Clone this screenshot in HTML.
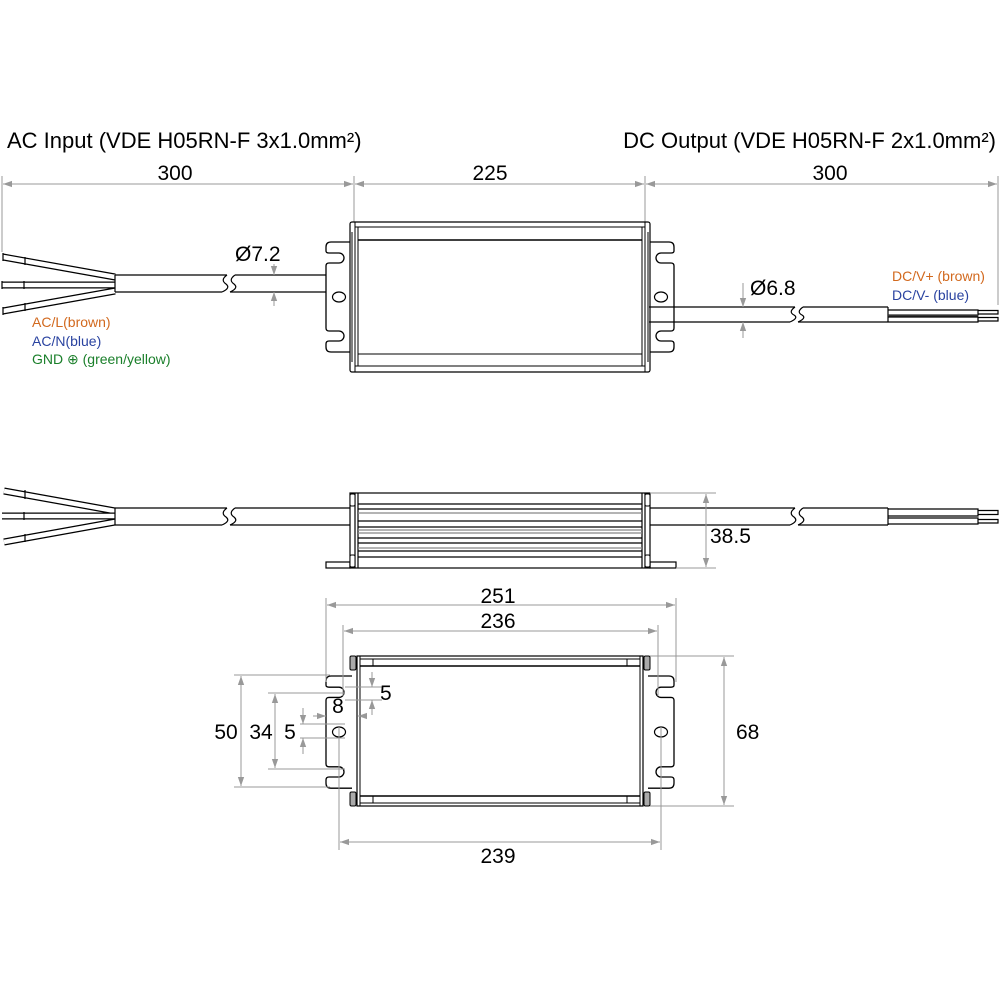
<!DOCTYPE html>
<html><head><meta charset="utf-8"><style>
html,body{margin:0;padding:0;background:#fff;}
svg{display:block;font-family:"Liberation Sans",Arial,sans-serif;}
</style></head><body>
<svg width="1000" height="1000" viewBox="0 0 1000 1000" xmlns="http://www.w3.org/2000/svg">
<defs>
<marker id="ar" viewBox="0 0 10 10" refX="10" refY="5" markerWidth="9" markerHeight="9" orient="auto-start-reverse" markerUnits="userSpaceOnUse"><path d="M0,1.5 L10,5 L0,8.5 Z" fill="#999"/></marker>
<path id="fl" d="M26,0 H5 Q0,0 0,5 V9 Q0,11 3,11 H13 A5,5 0 0 1 13,21 H3 Q0,21 0,24 V86 Q0,89 3,89 H13 A5,5 0 0 1 13,99 H3 Q0,99 0,102 V105 Q0,110 5,110 H26" fill="#fff" stroke="#000" stroke-width="1.3"/>
</defs>
<rect width="1000" height="1000" fill="#fff"/>

<!-- header -->
<text x="7" y="148" font-size="22">AC Input (VDE H05RN-F 3x1.0mm²)</text>
<text x="996" y="148" font-size="22" text-anchor="end">DC Output (VDE H05RN-F 2x1.0mm²)</text>
<g stroke="#999" stroke-width="1" fill="none">
<line x1="2" y1="176" x2="2" y2="252"/>
<line x1="354" y1="176" x2="354" y2="222"/>
<line x1="645" y1="176" x2="645" y2="222"/>
<line x1="998" y1="176" x2="998" y2="305"/>
<line x1="3" y1="184" x2="353" y2="184" marker-start="url(#ar)" marker-end="url(#ar)"/>
<line x1="355" y1="184" x2="644" y2="184" marker-start="url(#ar)" marker-end="url(#ar)"/>
<line x1="646" y1="184" x2="997" y2="184" marker-start="url(#ar)" marker-end="url(#ar)"/>
</g>
<text x="175" y="180" font-size="21" text-anchor="middle">300</text>
<text x="490" y="180" font-size="21" text-anchor="middle">225</text>
<text x="830" y="180" font-size="21" text-anchor="middle">300</text>

<!-- ===== TOP VIEW ===== -->
<g stroke-linecap="butt">
<line x1="3" y1="257" x2="115" y2="277" stroke="#000" stroke-width="7"/>
<line x1="3" y1="257" x2="115" y2="277" stroke="#fff" stroke-width="4.5"/>
<line x1="2" y1="285" x2="115" y2="285" stroke="#000" stroke-width="7"/>
<line x1="2" y1="285" x2="115" y2="285" stroke="#fff" stroke-width="4.5"/>
<line x1="3" y1="311" x2="115" y2="291" stroke="#000" stroke-width="7"/>
<line x1="3" y1="311" x2="115" y2="291" stroke="#fff" stroke-width="4.5"/>
</g>
<g stroke="#000" stroke-width="1.2" fill="none">
<line x1="25" y1="257" x2="25" y2="265"/><line x1="24" y1="281" x2="24" y2="289"/><line x1="25" y1="303" x2="25" y2="311"/>
<line x1="3" y1="253" x2="3" y2="261"/><line x1="2" y1="281" x2="2" y2="289"/><line x1="3" y1="307" x2="3" y2="315"/>
<path d="M115,275 H227 M115,292 H222 M115,275 V292"/>
<path d="M227,275 Q220,280 226,284 Q231,288 222,292"/>
<path d="M235,275 Q228,280 234,284 Q239,288 230,292"/>
<path d="M235,275 H352 M230,292 H352"/>
</g>
<text x="32" y="327" font-size="14" fill="#d2691e">AC/L(brown)</text>
<text x="32" y="346" font-size="14" fill="#2a43a0">AC/N(blue)</text>
<text x="32" y="364" font-size="14" fill="#1a7f2a">GND ⊕ (green/yellow)</text>
<text x="235" y="261" font-size="21">Ø7.2</text>
<g stroke="#999" stroke-width="1"><line x1="274" y1="264" x2="274" y2="275" marker-end="url(#ar)"/><line x1="274" y1="306" x2="274" y2="292" marker-end="url(#ar)"/></g>

<use href="#fl" transform="translate(326,242)"/>
<use href="#fl" transform="translate(674,242) scale(-1,1)"/>
<ellipse cx="339" cy="297" rx="6.5" ry="5" fill="none" stroke="#000" stroke-width="1.2"/>
<ellipse cx="661" cy="297" rx="6.5" ry="5" fill="none" stroke="#000" stroke-width="1.2"/>
<g stroke="#000" stroke-width="1.2" fill="#fff">
<rect x="350" y="222" width="300" height="150" rx="2"/>
</g>
<g stroke="#000" stroke-width="1" fill="none">
<line x1="355" y1="222" x2="355" y2="372"/><line x1="358" y1="227" x2="358" y2="366"/>
<line x1="645" y1="222" x2="645" y2="372"/><line x1="642" y1="227" x2="642" y2="366"/>
<line x1="355" y1="227" x2="645" y2="227"/>
<line x1="358" y1="240" x2="642" y2="240" stroke-width="1.5"/>
<line x1="358" y1="354" x2="642" y2="354"/>
<line x1="355" y1="366" x2="645" y2="366"/>
<line x1="352" y1="232" x2="352" y2="362"/><line x1="648" y1="232" x2="648" y2="362"/>
</g>
<g stroke="#000" stroke-width="1.2" fill="none">
<path d="M649,307 H795 M649,322 H790"/>
<path d="M795,307 Q788,312 794,315 Q799,318 790,322"/>
<path d="M803,307 Q796,312 802,315 Q807,318 798,322"/>
<path d="M803,307 H888 M798,322 H888 M888,307 V322"/>
<path d="M888,310 H978 V315 H888 M888,317 H978 V322 H888"/>
<path d="M978,310.5 H998 V314 H978 M978,317.5 H998 V321 H978"/>
</g>
<line x1="888" y1="315.5" x2="978" y2="315.5" stroke="#333" stroke-width="2"/>
<text x="750" y="295" font-size="21">Ø6.8</text>
<g stroke="#999" stroke-width="1"><line x1="743" y1="283" x2="743" y2="307" marker-end="url(#ar)"/><line x1="743" y1="338" x2="743" y2="322" marker-end="url(#ar)"/></g>
<text x="892" y="281" font-size="14" fill="#d2691e">DC/V+ (brown)</text>
<text x="892" y="300" font-size="14" fill="#2a43a0">DC/V- (blue)</text>

<!-- ===== SIDE VIEW ===== -->
<g>
<line x1="4" y1="491" x2="115" y2="511" stroke="#000" stroke-width="7"/>
<line x1="4" y1="491" x2="115" y2="511" stroke="#fff" stroke-width="4.5"/>
<line x1="2" y1="516" x2="115" y2="516" stroke="#000" stroke-width="7"/>
<line x1="2" y1="516" x2="115" y2="516" stroke="#fff" stroke-width="4.5"/>
<line x1="4" y1="542" x2="115" y2="522" stroke="#000" stroke-width="7"/>
<line x1="4" y1="542" x2="115" y2="522" stroke="#fff" stroke-width="4.5"/>
</g>
<g stroke="#000" stroke-width="1.2" fill="none">
<line x1="25" y1="490" x2="25" y2="499"/><line x1="24" y1="512" x2="24" y2="520"/><line x1="25" y1="534" x2="25" y2="542"/>
<path d="M115,508 H227 M115,525 H222 M115,508 V525"/>
<path d="M227,508 Q220,513 226,517 Q231,521 222,525"/>
<path d="M235,508 Q228,513 234,517 Q239,521 230,525"/>
<path d="M235,508 H350 M230,525 H350"/>
<path d="M650,508 H795 M650,525 H790"/>
<path d="M795,508 Q788,513 794,517 Q799,521 790,525"/>
<path d="M803,508 Q796,513 802,517 Q807,521 798,525"/>
<path d="M803,508 H888 M798,525 H888 M888,508 V525"/>
<path d="M888,509 H978 V516 H888 M888,518 H978 V524 H888"/>
<path d="M978,510.5 H998 V514.5 H978 M978,519.5 H998 V523 H978"/>
<rect x="326" y="562" width="24" height="6"/>
<rect x="650" y="562" width="26" height="6"/>
<rect x="350" y="493" width="300" height="75" fill="#fff"/>
<line x1="355" y1="493" x2="355" y2="568"/><line x1="358" y1="493" x2="358" y2="568"/>
<line x1="645" y1="493" x2="645" y2="568"/><line x1="642" y1="493" x2="642" y2="568"/>
<line x1="358" y1="504" x2="642" y2="504"/>
<line x1="358" y1="509" x2="642" y2="509"/>
<line x1="358" y1="521" x2="642" y2="521"/>
<line x1="358" y1="527" x2="642" y2="527"/>
<line x1="358" y1="538" x2="642" y2="538"/>
<line x1="358" y1="543" x2="642" y2="543"/>
<line x1="358" y1="551" x2="642" y2="551"/>
<line x1="358" y1="557" x2="642" y2="557"/>
</g>
<g stroke="#888" stroke-width="1.2">
<line x1="358" y1="513" x2="642" y2="513"/><line x1="358" y1="530" x2="642" y2="530"/><line x1="358" y1="533" x2="642" y2="533"/><line x1="358" y1="548" x2="642" y2="548"/>
</g>
<g stroke="#000" stroke-width="1" fill="#fff">
<rect x="350" y="494" width="5" height="12" rx="1.5"/><rect x="645" y="494" width="5" height="12" rx="1.5"/>
<rect x="350" y="555" width="5" height="12" rx="1.5"/><rect x="645" y="555" width="5" height="12" rx="1.5"/>
</g>
<g stroke="#999" stroke-width="1">
<line x1="650" y1="493" x2="716" y2="493"/><line x1="676" y1="568" x2="716" y2="568"/>
<line x1="706" y1="494" x2="706" y2="567" marker-start="url(#ar)" marker-end="url(#ar)"/>
</g>
<text x="710" y="543" font-size="21">38.5</text>

<!-- ===== BOTTOM VIEW ===== -->
<use href="#fl" transform="translate(326,676) scale(1,1.02)"/>
<use href="#fl" transform="translate(674,676) scale(-1,1.02)"/>
<ellipse cx="339" cy="732" rx="6.5" ry="5" fill="none" stroke="#000" stroke-width="1.2"/>
<ellipse cx="661" cy="732" rx="6.5" ry="5" fill="none" stroke="#000" stroke-width="1.2"/>
<g stroke="#000" stroke-width="1.2" fill="#fff">
<rect x="357" y="656" width="286" height="150"/>
</g>
<g stroke="#000" stroke-width="1" fill="none">
<line x1="360" y1="656" x2="360" y2="806"/><line x1="640" y1="656" x2="640" y2="806"/>
<line x1="360" y1="659" x2="640" y2="659"/><line x1="360" y1="666" x2="640" y2="666" stroke-width="1.5"/>
<line x1="360" y1="796" x2="640" y2="796" stroke-width="1.5"/><line x1="360" y1="803" x2="640" y2="803"/>
<line x1="373" y1="659" x2="373" y2="666"/><line x1="627" y1="659" x2="627" y2="666"/>
<line x1="373" y1="796" x2="373" y2="803"/><line x1="627" y1="796" x2="627" y2="803"/>
</g>
<g stroke="#000" stroke-width="1" fill="#aaa">
<rect x="350" y="656" width="6" height="14" rx="1.5"/><rect x="644" y="656" width="6" height="14" rx="1.5"/>
<rect x="350" y="792" width="6" height="14" rx="1.5"/><rect x="644" y="792" width="6" height="14" rx="1.5"/>
</g>
<g stroke="#999" stroke-width="1" fill="none">
<line x1="326" y1="598" x2="326" y2="682"/><line x1="676" y1="598" x2="676" y2="682"/>
<line x1="343" y1="625" x2="343" y2="696"/><line x1="658" y1="625" x2="658" y2="696"/>
<line x1="339" y1="727" x2="339" y2="850"/><line x1="661" y1="727" x2="661" y2="850"/>
<line x1="327" y1="605" x2="675" y2="605" marker-start="url(#ar)" marker-end="url(#ar)"/>
<line x1="344" y1="631" x2="657" y2="631" marker-start="url(#ar)" marker-end="url(#ar)"/>
<line x1="340" y1="842" x2="660" y2="842" marker-start="url(#ar)" marker-end="url(#ar)"/>
<line x1="650" y1="656" x2="734" y2="656"/><line x1="650" y1="806" x2="734" y2="806"/>
<line x1="724" y1="657" x2="724" y2="805" marker-start="url(#ar)" marker-end="url(#ar)"/>
<line x1="234" y1="675" x2="330" y2="675"/><line x1="234" y1="787" x2="330" y2="787"/>
<line x1="241" y1="676" x2="241" y2="786" marker-start="url(#ar)" marker-end="url(#ar)"/>
<line x1="268" y1="693" x2="345" y2="693"/><line x1="268" y1="769" x2="345" y2="769"/>
<line x1="275" y1="694" x2="275" y2="768" marker-start="url(#ar)" marker-end="url(#ar)"/>
<line x1="300" y1="724" x2="345" y2="724"/><line x1="300" y1="738" x2="345" y2="738"/>
<line x1="303" y1="708" x2="303" y2="724" marker-end="url(#ar)"/><line x1="303" y1="754" x2="303" y2="738" marker-end="url(#ar)"/>
<line x1="345" y1="687" x2="382" y2="687"/><line x1="345" y1="700" x2="382" y2="700"/>
<line x1="372" y1="672" x2="372" y2="687" marker-end="url(#ar)"/><line x1="372" y1="715" x2="372" y2="700" marker-end="url(#ar)"/>
<line x1="313" y1="716" x2="326" y2="716" marker-end="url(#ar)"/><line x1="365" y1="716" x2="358" y2="716" marker-end="url(#ar)"/>
</g>
<text x="498" y="603" font-size="21" text-anchor="middle">251</text>
<text x="498" y="628" font-size="21" text-anchor="middle">236</text>
<text x="498" y="863" font-size="21" text-anchor="middle">239</text>
<text x="736" y="739" font-size="21">68</text>
<text x="226" y="739" font-size="21" text-anchor="middle">50</text>
<text x="261" y="739" font-size="21" text-anchor="middle">34</text>
<text x="290" y="739" font-size="21" text-anchor="middle">5</text>
<text x="380" y="700" font-size="21">5</text>
<text x="338" y="713" font-size="21" text-anchor="middle">8</text>
</svg>
</body></html>
